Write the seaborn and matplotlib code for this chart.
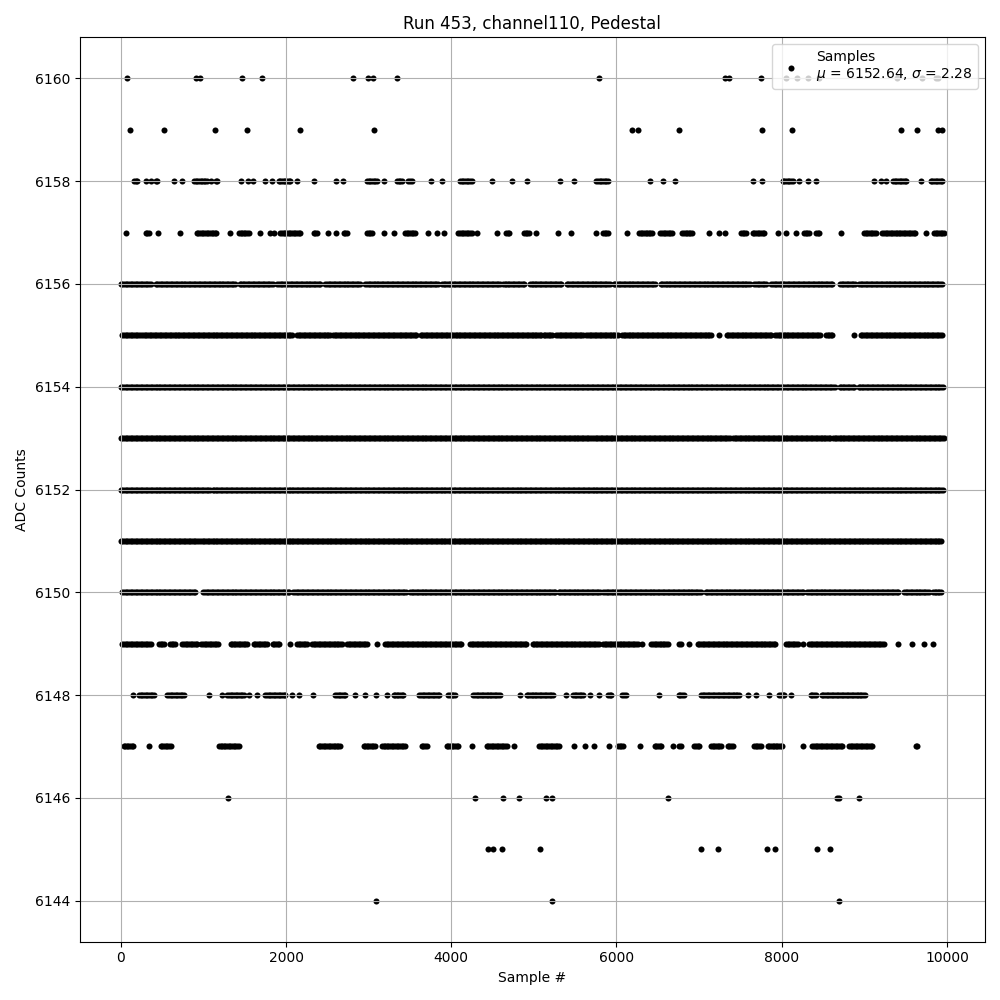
import numpy as np
import pandas as pd
import matplotlib
matplotlib.use("Agg")
import matplotlib.pyplot as plt
import seaborn as sns

# Valeurs ADC : pour chaque niveau, les plages d'échantillons
# (début, fin) où des points apparaissent. Un point isolé -> (x, x).
lvl_6160 = [(81, 81), (906, 906), (954, 954), (1473, 1473), (1715, 1715), (2814, 2814),
            (2995, 2995), (3055, 3055), (3345, 3345), (5785, 5785), (7319, 7319),
            (7367, 7367), (7754, 7754), (8055, 8055), (8188, 8188), (8321, 8321),
            (8454, 8454), (9396, 9396), (9698, 9698), (9867, 9867), (9891, 9891)]
lvl_6159 = [(112, 112), (523, 523), (1139, 1139), (1525, 1525), (2165, 2165), (3059, 3059),
            (6187, 6187), (6260, 6260), (6751, 6751), (7757, 7757), (8119, 8119),
            (9448, 9448), (9641, 9641), (9895, 9895), (9936, 9936)]
lvl_6158 = [(161, 202), (302, 302), (362, 362), (423, 455), (644, 644), (737, 737),
            (885, 1047), (1087, 1087), (1147, 1168), (1449, 1449), (1537, 1537),
            (1603, 1603), (1751, 1751), (1832, 1832), (1912, 2053), (2134, 2134),
            (2335, 2335), (2609, 2609), (2690, 2690), (2979, 3100), (3180, 3180),
            (3342, 3402), (3482, 3535), (3752, 3752), (3892, 3892), (4106, 4247),
            (4489, 4489), (4738, 4738), (4919, 4919), (5322, 5322), (5487, 5487),
            (5757, 5897), (6401, 6401), (6561, 6561), (6706, 6706), (7648, 7648),
            (7757, 7757), (8011, 8131), (8212, 8212), (8324, 8324), (8421, 8421),
            (9118, 9118), (9199, 9199), (9259, 9259), (9348, 9508), (9682, 9682),
            (9803, 9943)]
lvl_6157 = [(60, 60), (302, 354), (450, 450), (716, 716), (918, 1159), (1317, 1317),
            (1429, 1549), (1679, 1679), (1812, 1812), (1860, 1860), (1932, 2175),
            (2334, 2383), (2504, 2504), (2605, 2605), (2697, 2750), (2979, 3040),
            (3180, 3180), (3309, 3309), (3442, 3563), (3723, 3723), (3825, 3825),
            (3917, 3917), (4086, 4247), (4308, 4308), (4557, 4557), (4662, 4718),
            (4879, 4943), (5024, 5024), (5293, 5293), (5447, 5447), (5749, 5749),
            (5837, 5897), (6127, 6127), (6272, 6441), (6530, 6675), (6796, 6924),
            (7126, 7126), (7247, 7247), (7319, 7319), (7508, 7568), (7648, 7789),
            (7950, 7950), (8052, 8052), (8172, 8172), (8272, 8333), (8414, 8454),
            (8723, 8723), (8997, 9139), (9218, 9630), (9743, 9743), (9843, 9963)]
lvl_6156 = [(0, 374), (423, 1389), (1437, 1848), (1896, 2427), (2476, 2911),
            (2959, 3840), (3889, 4589), (4625, 4903), (4952, 5350), (5398, 5918),
            (5966, 6485), (6534, 7633), (7669, 7826), (7874, 8623), (8708, 8901),
            (8937, 9951)]
lvl_6155 = [(20, 221), (250, 2089), (2134, 2536), (2569, 3333), (3357, 3583),
            (3632, 5093), (5120, 5233), (5274, 5595), (5636, 6030), (6066, 7158),
            (7238, 7238), (7334, 7890), (7922, 8474), (8535, 8615), (8880, 8880),
            (8957, 9951)]
lvl_6154 = [(0, 8640), (8700, 8880), (8930, 9960)]
lvl_6153 = [(0, 1420), (1440, 5700), (5730, 7380), (7410, 8590), (8620, 9960)]
lvl_6152 = [(0, 1090), (1110, 8570), (8590, 9960)]
lvl_6151 = [(0, 920), (950, 9940)]
lvl_6150 = [(20, 900), (1000, 2050), (2090, 3460), (3500, 5270), (5300, 5800),
            (5840, 7020), (7080, 8270), (8310, 9420), (9480, 9780), (9830, 9940)]
lvl_6149 = [(20, 362), (463, 523), (595, 664), (745, 926), (975, 1187), (1328, 1530),
            (1610, 1772), (1839, 1932), (2053, 2053), (2134, 2255), (2315, 2677),
            (2738, 2979), (3100, 3100), (3200, 4127), (4227, 4912), (4984, 5797),
            (5837, 6260), (6308, 6308), (6421, 6634), (6755, 6755), (6784, 6784),
            (6884, 6884), (6984, 7931), (8052, 8192), (8260, 8260), (8333, 9239),
            (9411, 9411), (9580, 9580), (9722, 9722), (9834, 9834)]
lvl_6148 = [(149, 149), (221, 402), (564, 765), (1066, 1066), (1220, 1220), (1289, 1489),
            (1549, 1549), (1651, 1651), (1751, 1993), (2074, 2074), (2153, 2153),
            (2322, 2322), (2597, 2717), (2830, 2830), (2950, 2950), (3088, 3088),
            (3221, 3221), (3301, 3421), (3615, 3864), (3965, 4046), (4267, 4589),
            (4831, 4831), (4912, 5233), (5387, 5387), (5475, 5595), (5676, 5676),
            (5789, 5789), (5897, 5938), (6071, 6119), (6513, 6513), (6755, 6824),
            (7025, 7488), (7588, 7588), (7689, 7689), (7842, 7842), (7971, 8031),
            (8112, 8112), (8353, 8414), (8486, 9018)]
lvl_6147 = [(33, 169), (342, 342), (483, 616), (1187, 1429), (2395, 2657), (2938, 3080),
            (3160, 3442), (3644, 3704), (3946, 4086), (4247, 4247), (4429, 4670),
            (4762, 4762), (5064, 5314), (5487, 5487), (5616, 5616), (5728, 5728),
            (5909, 5909), (6018, 6078), (6280, 6280), (6461, 6542), (6682, 6682),
            (6763, 6784), (6944, 7005), (7146, 7267), (7346, 7407), (7665, 7750),
            (7829, 8011), (8264, 8264), (8373, 8735), (8816, 9106), (9622, 9653)]
lvl_6146 = [(1300, 1300), (4290, 4290), (4630, 4630), (4820, 4820), (5150, 5150),
            (5215, 5215), (6620, 6620), (8670, 8690), (8930, 8930)]
lvl_6145 = [(4440, 4440), (4509, 4509), (4617, 4617), (5076, 5076), (7020, 7020),
            (7226, 7226), (7826, 7826), (7914, 7914), (8433, 8433), (8590, 8590)]
lvl_6144 = [(3092, 3092), (5221, 5221), (8699, 8699)]

levels = {6160: lvl_6160, 6159: lvl_6159, 6158: lvl_6158, 6157: lvl_6157,
          6156: lvl_6156, 6155: lvl_6155, 6154: lvl_6154, 6153: lvl_6153,
          6152: lvl_6152, 6151: lvl_6151, 6150: lvl_6150, 6149: lvl_6149,
          6148: lvl_6148, 6147: lvl_6147, 6146: lvl_6146, 6145: lvl_6145,
          6144: lvl_6144}

mu = 6152.64
sigma = 2.28

# Construire le DataFrame (un point tous les 20 échantillons dans chaque plage)
rows = []
for adc, runs in levels.items():
    for a, b in runs:
        for s in np.arange(a, b + 1, 20):
            rows.append((s, adc))
df = pd.DataFrame(rows, columns=["sample", "adc"])

fig, ax = plt.subplots(figsize=(10, 10), dpi=100)
sns.scatterplot(data=df, x="sample", y="adc", color="k", s=19, linewidth=0,
                ax=ax, label=f"Samples\n$\\mu$ = {mu:.2f}, $\\sigma$ = {sigma:.2f}")
ax.set_title("Run 453, channel110, Pedestal")
ax.set_xlabel("Sample #")
ax.set_ylabel("ADC Counts")
ax.set_xticks([0, 2000, 4000, 6000, 8000, 10000])
ax.set_yticks(range(6144, 6161, 2))
ax.grid(True)
ax.legend(loc="upper right")
plt.tight_layout()
plt.savefig("out.png")
